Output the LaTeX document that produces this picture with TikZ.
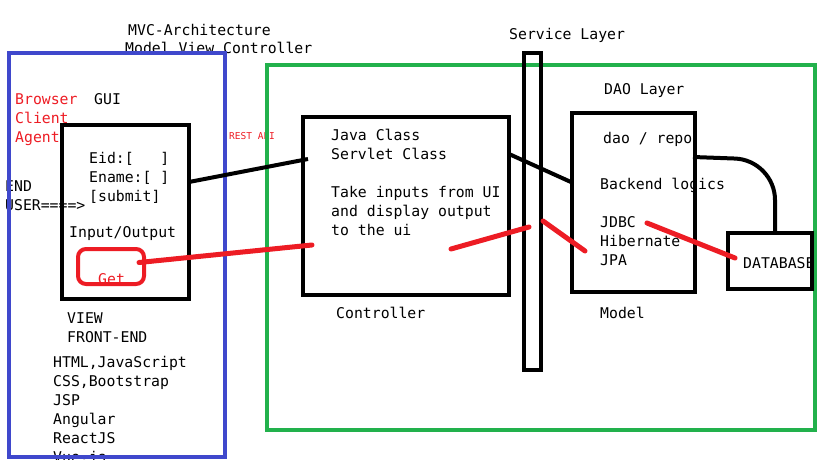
\documentclass[tikz,border=0pt]{standalone}
\usepackage{fontspec}
\setmainfont{DejaVu Sans Mono}
\usepackage{tikz}
\usetikzlibrary{calc}
\usepackage{xcolor}
\definecolor{paintblue}{RGB}{63,72,204}
\definecolor{paintgreen}{RGB}{34,177,76}
\definecolor{paintred}{RGB}{237,28,36}

\begin{document}
\begin{tikzpicture}[x=1pt,y=-1pt,
    panel/.style={draw,line width=4pt,inner sep=0pt,outer sep=0pt},
    label/.style={anchor=base west,inner sep=0pt,align=left,font=\fontsize{14.8}{19}\selectfont},
    wire/.style={line width=4pt},
    redwire/.style={draw=paintred,line width=5pt,line cap=round}]
    \useasboundingbox (0,0) rectangle (819,460);

    % Titles (base = last line)
    \node[label,font=\fontsize{14.8}{18}\selectfont] (title) at (128,54) {MVC-Architecture\\\hspace{-3pt}Model View Controller};
    \node[label] (servicetitle) at (509,40) {Service Layer};
    \node[label] (daotitle) at (604,95) {DAO Layer};

    % View side
    \node[label,text=paintred] (browser) at (15,142) {Browser\\Client\\Agent};
    \node[label] (guititle) at (94,104) {GUI};
    \node[label] (form) at (89,201) {Eid:[~~~]\\Ename:[~]\\{}[submit]};
    \node[label] (enduser) at (5,210) {END\\USER====>};
    \node[label,text=paintred,font=\fontsize{9.5}{12}\selectfont] (restapi) at (229,139) {REST API};
    \node[label] (io) at (69,237) {Input/Output};
    \node[label,text=paintred] (gettext) at (98,284) {Get};
    \node[label] (view) at (67,342) {VIEW\\FRONT-END};
    \node[label] (tech) at (53,462) {HTML,JavaScript\\CSS,Bootstrap\\JSP\\Angular\\ReactJS\\Vue.js};

    % Controller
    \node[label] (ctrltext) at (331,235) {Java Class\\Servlet Class\\[19pt]Take inputs from UI\\and display output\\to the ui};
    \node[label] (ctrltitle) at (336,318) {Controller};

    % Model
    \node[label] (dao) at (603,143) {dao / repo};
    \node[label] (backend) at (600,189) {Backend logics};
    \node[label] (jdbc) at (600,265) {JDBC\\Hibernate\\JPA};
    \node[label] (modeltitle) at (600,318) {Model};
    \node[label] (dbtext) at (743,268) {DATABASE};

    % Boxes
    \node[panel,draw=paintblue,minimum width=216,minimum height=404] (client) at (117,255) {};
    \node[panel,draw=paintgreen,minimum width=548,minimum height=365] (server) at (541,247.5) {};
    \node[panel,minimum width=127,minimum height=174] (gui) at (125.5,212) {};
    \node[panel,draw=paintred,rounded corners=8pt,minimum width=66,minimum height=35] (get) at (111,266.5) {};
    \node[panel,minimum width=206,minimum height=178] (ctrl) at (406,206) {};
    \node[panel,minimum width=17,minimum height=317] (service) at (532.5,211.5) {};
    \node[panel,minimum width=123,minimum height=179] (model) at (633.5,202.5) {};
    \node[panel,minimum width=84,minimum height=56] (db) at (770,261) {};

    % Connectors
    \coordinate (repo) at (693,157);
    \coordinate (ui) at (451,249);
    \coordinate (orm) at (647,223);
    \draw[wire] ([yshift=30pt]gui.east) -- ([xshift=5pt,yshift=47pt]ctrl.west);
    \draw[wire] ([yshift=52pt]ctrl.east) -- ([yshift=20pt]model.west);
    \draw[wire,rounded corners=40pt] (repo) -- (775,160) -- ([xshift=5pt]db.north);
    \draw[redwire] ([xshift=-5pt,yshift=4pt]get.east) -- ([xshift=9pt,yshift=-39pt]ctrl.west);
    \draw[redwire] (ui) -- ([xshift=5pt,yshift=-15.5pt]service.west);
    \draw[redwire] ([xshift=2pt,yshift=-9.5pt]service.east) -- ([xshift=13pt,yshift=-48.5pt]model.west);
    \draw[redwire] (orm) -- ([xshift=7pt,yshift=3pt]db.west);
\end{tikzpicture}
\end{document}
